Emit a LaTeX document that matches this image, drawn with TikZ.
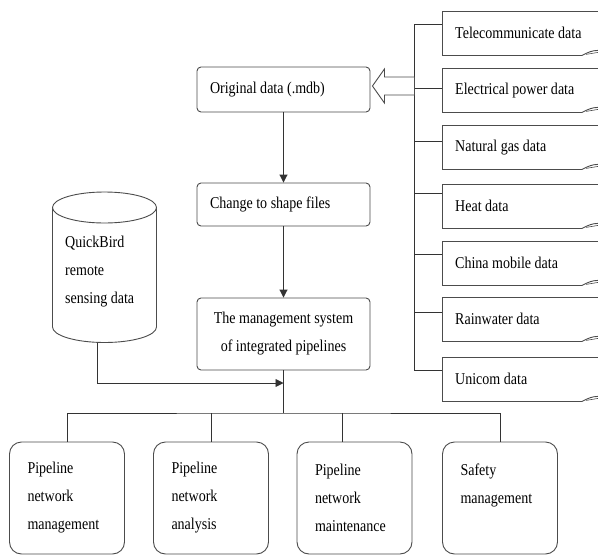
\documentclass[tikz,border=0pt]{standalone}
\usepackage{fontspec}
\setmainfont[FakeStretch=0.85]{Liberation Serif}
\usetikzlibrary{arrows.meta}
\usetikzlibrary{positioning}
\usetikzlibrary{calc}

\begin{document}
\begin{tikzpicture}[x=1pt,y=-1pt,
    every node/.style={font=\fontsize{16.5}{28}\selectfont},
    boxline/.style={draw=black!70,line width=0.9pt},
    wire/.style={draw=black!80,line width=0.9pt}]
\useasboundingbox (0,0) rectangle (598,555);
\path[clip] (0,0) rectangle (598,555);

\begin{scope}[every node/.append style={boxline,fill=white,rectangle}]
    \node[rounded corners=4pt,minimum height=45,text width=147,inner xsep=13,align=flush left] (orig)  at (283.5,89.5) {Original data (.mdb)};
    \node[rounded corners=4pt,minimum height=43,text width=147,inner xsep=13,align=flush left] (shape) at (283.5,204.5) {Change to shape files};
    \node[rounded corners=4pt,minimum height=72,text width=147,inner xsep=13,align=flush center] (mgmt) at (283.5,334) {The management system\\of integrated pipelines};
\end{scope}

\begin{scope}[every node/.append style={boxline,fill=white,rectangle,rounded corners=12pt,
              minimum height=112,text width=79,inner xsep=18,align=flush left}]
    \node (pm) at (67,498)    {Pipeline\\network\\management};
    \node (pa) at (211,498)   {Pipeline\\network\\analysis};
    \node (pt) at (354.5,498) {Pipeline\\network\\maintenance};
    \node (sm) at (500,498)   {Safety\\management\\\mbox{}};
\end{scope}

% remote sensing store
\draw[boxline,fill=white] (52.5,207.5) -- (52.5,327) arc[start angle=180,end angle=0,x radius=52,y radius=15.5] -- (156.5,207.5);
\draw[boxline,fill=white] (104.5,207.5) ellipse[x radius=52,y radius=15.5];
\node[anchor=west,align=flush left,inner sep=0] (qb) at (65,272) {QuickBird\\remote\\sensing data};
\coordinate (qbase) at (97,342.5);

% data sources
\coordinate (rbus) at (414,0);
\foreach \name/\txt/\top/\off in {tel/Telecommunicate data/11/13,
                                  elec/Electrical power data/68/20,
                                  gas/Natural gas data/125/16,
                                  heat/Heat data/184/9,
                                  mob/China mobile data/241/13,
                                  rain/Rainwater data/297/15,
                                  uni/Unicom data/357/13}{
    \node[anchor=north west,minimum height=44,text width=144,inner xsep=13,align=flush left] (\name) at (442,\top) {\txt};
    \draw[boxline] (\name.north east) -- (\name.north west) -- (\name.south west) -- ++(140,0) coordinate (\name-f);
    \draw[boxline] (\name-f) .. controls ($(\name-f)+(6,-3)$) and ($(\name-f)+(10,-5)$) .. ($(\name-f)+(16,-5)$);
    \draw[boxline,line width=0.6pt] ($(\name-f)+(4,-1)$) -- ($(\name-f)+(16,-3)$);
    \draw[wire] (\name.north west) ++(0,\off) coordinate (\name-in) -- (\name-in -| rbus);
}
\draw[wire] (tel-in -| rbus) -- (uni-in -| rbus);

\coordinate (tip) at ($(orig.east)+(2,-3.5)$);
\draw[boxline,fill=white] (tip) -- ++(12,-17) -- ++(0,8) -- ++(30,0) -- ++(0,18) -- ++(-30,0) -- ++(0,8) -- cycle;

\coordinate (join) at (283.5,383);
\coordinate (bus)  at (283.5,413);
\coordinate (ptin) at ($(pt.north)+(-12.5,0)$);

\begin{scope}[>={Triangle[length=8pt,width=8pt]},
              every edge/.style={wire}]
    \path [->] (orig)  edge (shape);
    \path [->] (shape) edge (mgmt);
    \draw [wire,->] (qbase) |- (join);
    \draw [wire] (mgmt.south) -- (bus);
    \draw [wire] (pm.north) |- (bus) -| (sm.north);
    \draw [wire] (pa.north) -- (pa.north |- bus);
    \draw [wire] (ptin) -- (ptin |- bus);
\end{scope}
\end{tikzpicture}
\end{document}
